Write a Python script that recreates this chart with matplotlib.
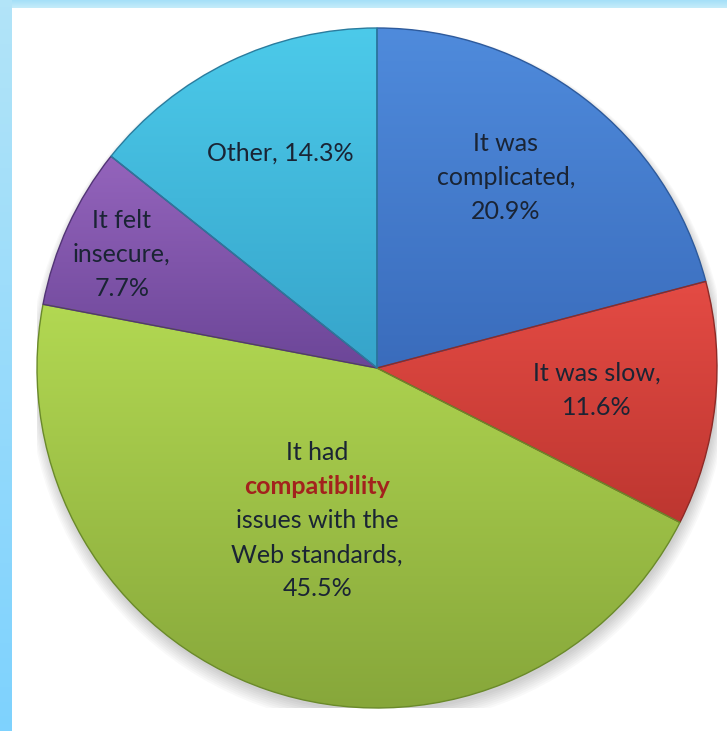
import numpy as np
import matplotlib.pyplot as plt
from matplotlib.colors import LinearSegmentedColormap

# survey answers, clockwise from 12 o'clock
reasons = ["It was complicated", "It was slow",
           "It had compatibility issues with the Web standards",
           "It felt insecure", "Other"]
shares = [20.9, 11.6, 45.5, 7.7, 14.3]

# (top, bottom) shade of each slice
shades = [("#4f8bdc", "#3a6cbc"),
          ("#e44b44", "#bd3630"),
          ("#b2d852", "#86a63a"),
          ("#9464bc", "#6c4698"),
          ("#4ccaea", "#36a4ca")]
edges = ["#2d5a9c", "#8e2a26", "#6a8a2a", "#523476", "#2a7c9e"]

# label lines, block centre in axes units, lines drawn one by one
label_lines = [["It was", "complicated,", "20.9%"],
               ["It was slow,", "11.6%"],
               ["It had", "compatibility", "issues with the", "Web standards,", "45.5%"],
               ["It felt", "insecure,", "7.7%"],
               ["Other, 14.3%"]]
label_xy = [(0.379, 0.559), (0.647, -0.065), (-0.176, -0.450),
            (-0.750, 0.335), (-0.285, 0.632)]

fig = plt.figure(figsize=(7.27, 7.31), dpi=100)
fig.patch.set_facecolor("white")

# light blue frame along top and left
top_band = fig.add_axes([0, 1 - 8 / 731, 1, 8 / 731])
top_band.imshow(np.linspace(0, 1, 10).reshape(-1, 1), aspect="auto",
                cmap=LinearSegmentedColormap.from_list("t", ["#a6e0f8", "#c4ecfa"]),
                extent=[0, 1, 0, 1])
top_band.axis("off")
left_band = fig.add_axes([0, 0, 12 / 727, 1])
left_band.imshow(np.linspace(0, 1, 100).reshape(-1, 1), aspect="auto",
                 cmap=LinearSegmentedColormap.from_list("l", ["#b2e4f8", "#7ed2fe"]),
                 extent=[0, 1, 0, 1])
left_band.axis("off")

ax = fig.add_axes([37 / 727, 23 / 731, 680 / 727, 680 / 731])
ax.set_xlim(-1, 1)
ax.set_ylim(-1, 1)
ax.set_aspect("equal")
ax.axis("off")

# soft shadow under the pie
for k in range(8):
    shadow = plt.Circle((0.004, -0.012 - 0.002 * k), 1.0 + 0.004 * k,
                        color="black", alpha=0.025, lw=0, zorder=0)
    ax.add_patch(shadow)

wedges, _ = ax.pie(shares, startangle=90, counterclock=False, radius=1.0,
                   colors=[s[0] for s in shades],
                   wedgeprops=dict(linewidth=1.0))
for w, (c_top, c_bot), ec in zip(wedges, shades, edges):
    w.set_edgecolor(ec)
    w.set_zorder(2)
    # vertical gradient clipped to the slice
    verts = w.get_path().vertices
    x0, y0 = verts.min(axis=0)
    x1, y1 = verts.max(axis=0)
    cmap = LinearSegmentedColormap.from_list("g", [c_top, c_bot])
    grad = np.linspace(0, 1, 256).reshape(-1, 1)
    im = ax.imshow(grad, cmap=cmap, extent=[x0, x1, y0, y1],
                   aspect="auto", origin="upper", zorder=1)
    im.set_clip_path(w)
    w.set_facecolor("none")

ax.set_xlim(-1, 1)
ax.set_ylim(-1, 1)

step = 0.1
for lines, (cx, cy) in zip(label_lines, label_xy):
    n = len(lines)
    for i, line in enumerate(lines):
        y = cy + (n - 1) / 2 * step - i * step
        if line == "compatibility":
            ax.text(cx, y, line, ha="center", va="center", fontsize=18,
                    family="Lato", weight="bold", color="#a3221d", zorder=5)
        else:
            ax.text(cx, y, line, ha="center", va="center", fontsize=18,
                    family="Lato", color="#1a2434", zorder=5)

fig.savefig("out.png", dpi=100)
